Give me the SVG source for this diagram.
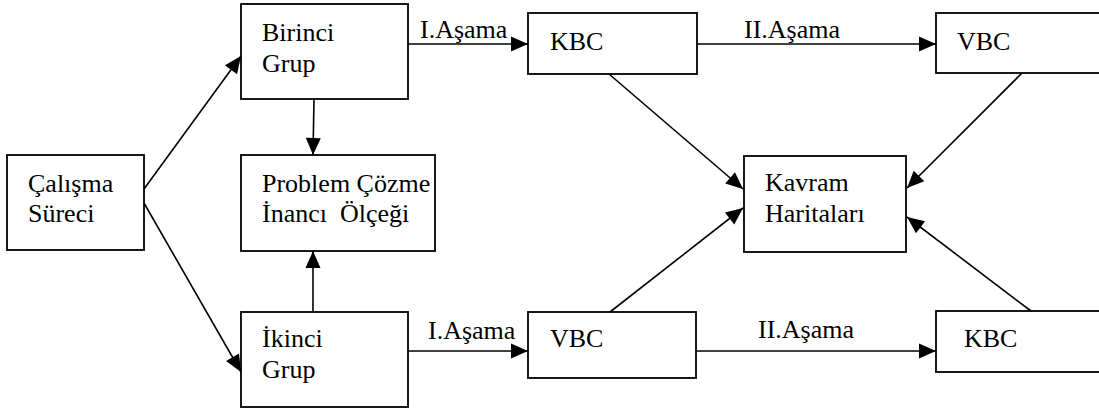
<svg xmlns="http://www.w3.org/2000/svg" width="1099" height="413" viewBox="0 0 1099 413">
<style>
.box{fill:#fff;stroke:#000;stroke-width:1.8}
.t{font-family:"Liberation Serif","Times New Roman",serif;font-size:26px;fill:#000}
.c{stroke:#000;stroke-width:1.6;fill:none;marker-end:url(#ah)}
</style>
<defs>
<marker id="ah" markerUnits="userSpaceOnUse" markerWidth="18" markerHeight="16" refX="17" refY="7.5" orient="auto" overflow="visible">
<path d="M0,0 L17,7.5 L0,15 z" fill="#000"/>
</marker>
</defs>
<rect width="1099" height="413" fill="#fff"/>
<g id="connectors">
<line class="c" x1="144" y1="189" x2="241" y2="56"/>
<line class="c" x1="144" y1="203" x2="241" y2="372"/>
<line class="c" x1="314" y1="99" x2="313" y2="155"/>
<line class="c" x1="313" y1="312" x2="313" y2="251"/>
<line class="c" x1="408" y1="44" x2="528" y2="44"/>
<line class="c" x1="697" y1="44" x2="936" y2="44"/>
<line class="c" x1="408" y1="351" x2="528" y2="351"/>
<line class="c" x1="696" y1="351" x2="936" y2="351"/>
<line class="c" x1="609" y1="74" x2="743" y2="189"/>
<line class="c" x1="1022" y1="73" x2="907" y2="188"/>
<line class="c" x1="610" y1="312" x2="743" y2="208"/>
<line class="c" x1="1031" y1="311" x2="907" y2="217"/>
<text class="t" x="420" y="38">I.Aşama</text>
<text class="t" x="744" y="38">II.Aşama</text>
<text class="t" x="428" y="339">I.Aşama</text>
<text class="t" x="758" y="338">II.Aşama</text>
</g>
<g id="calisma">
<rect class="box" x="7" y="155" width="137" height="95"/>
<text class="t" x="28" y="192">Çalışma</text>
<text class="t" x="28" y="222">Süreci</text>
</g>
<g id="birinci">
<rect class="box" x="241" y="4" width="167" height="95"/>
<text class="t" x="262" y="41">Birinci</text>
<text class="t" x="262" y="72">Grup</text>
</g>
<g id="problem">
<rect class="box" x="241" y="155" width="194" height="96"/>
<text class="t" x="262" y="192">Problem Çözme</text>
<text class="t" x="262" y="222" xml:space="preserve">İnancı  Ölçeği</text>
</g>
<g id="ikinci">
<rect class="box" x="241" y="312" width="167" height="95"/>
<text class="t" x="262" y="347">İkinci</text>
<text class="t" x="262" y="378">Grup</text>
</g>
<g id="kbc1">
<rect class="box" x="528" y="13" width="169" height="61"/>
<text class="t" x="550" y="50">KBC</text>
</g>
<g id="vbc1">
<rect class="box" x="936" y="13" width="180" height="60"/>
<text class="t" x="957" y="50">VBC</text>
</g>
<g id="kavram">
<rect class="box" x="744" y="156" width="162" height="96"/>
<text class="t" x="765" y="191">Kavram</text>
<text class="t" x="765" y="222">Haritaları</text>
</g>
<g id="vbc2">
<rect class="box" x="528" y="312" width="168" height="66"/>
<text class="t" x="550" y="347">VBC</text>
</g>
<g id="kbc2">
<rect class="box" x="936" y="311" width="180" height="61"/>
<text class="t" x="964" y="347">KBC</text>
</g>
</svg>
